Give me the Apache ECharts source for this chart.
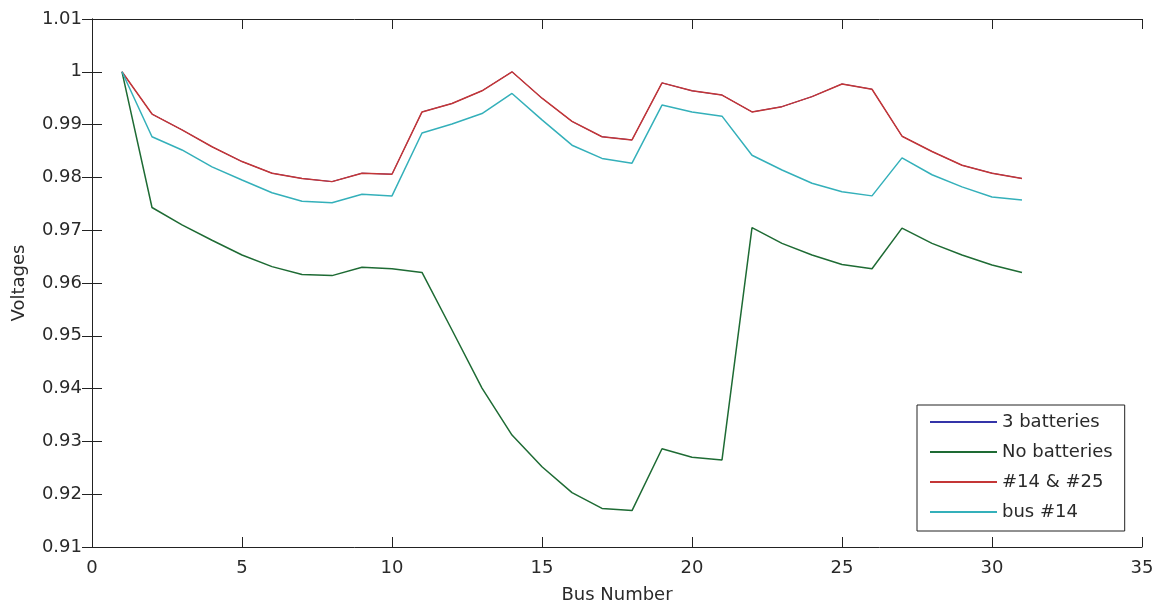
<!DOCTYPE html>
<html>
<head>
<meta charset="utf-8">
<script src="https://cdn.jsdelivr.net/npm/echarts@6/dist/echarts.min.js"></script>
<style>
  html, body { margin: 0; padding: 0; background: #fff; }
  #main { width: 1160px; height: 610px; }
</style>
</head>
<body>
<div id="main"></div>
<script>
// bus numbers along the feeder
var busNumbers = [1, 2, 3, 4, 5, 6, 7, 8, 9, 10, 11, 12, 13, 14, 15, 16,
  17, 18, 19, 20, 21, 22, 23, 24, 25, 26, 27, 28, 29, 30, 31];

// voltages (p.u.)
var noBatteries = [1.000, 0.9743, 0.9710, 0.9681, 0.9653, 0.9631, 0.9616, 0.9614,
  0.9630, 0.9627, 0.9620, 0.9511, 0.9401, 0.9312, 0.9252, 0.9203, 0.9173, 0.9169,
  0.9286, 0.9270, 0.9265, 0.9705, 0.9675, 0.9653, 0.9635, 0.9627, 0.9704, 0.9675,
  0.9653, 0.9634, 0.9620];
var bat14and25 = [1.000, 0.9920, 0.9890, 0.9858, 0.9830, 0.9808, 0.9798, 0.9792,
  0.9808, 0.9806, 0.9924, 0.9940, 0.9964, 1.0000, 0.9950, 0.9906, 0.9877, 0.9871,
  0.9979, 0.9964, 0.9956, 0.9924, 0.9934, 0.9953, 0.9977, 0.9967, 0.9878, 0.9849,
  0.9823, 0.9808, 0.9798];
var bus14 = [1.000, 0.9877, 0.9852, 0.9820, 0.9795, 0.9771, 0.9755, 0.9752,
  0.9768, 0.9765, 0.9884, 0.9901, 0.9921, 0.9959, 0.9909, 0.9861, 0.9836, 0.9827,
  0.9937, 0.9924, 0.9916, 0.9842, 0.9814, 0.9789, 0.9773, 0.9765, 0.9837, 0.9805,
  0.9782, 0.9763, 0.9757];
// the "3 batteries" trace is hidden under the later ones in the picture
var threeBatteries = bat14and25.slice();

var yTicks = { min: 0.91, max: 1.01, step: 0.01 };
var xTicks = { min: 0, max: 35, step: 5 };

function pairs(ys) {
  return busNumbers.map(function (b, i) { return [b, ys[i]]; });
}

var font = 'DejaVu Sans';
var textColor = '#2a2a2a';
var axisLine = { show: true, lineStyle: { color: '#222', width: 1 } };
var axisTick = { show: true, inside: true, length: 10, lineStyle: { color: '#222' } };

var chart = echarts.init(document.getElementById('main'), null, { renderer: 'canvas' });

var option = {
  backgroundColor: '#fff',
  animation: false,
  textStyle: { fontFamily: font },
  grid: { left: 92, right: 18, top: 19, bottom: 63 },
  legend: {
    orient: 'vertical',
    left: 917,
    top: 405,
    padding: [7, 12, 9, 13],
    borderColor: '#222',
    borderWidth: 1,
    backgroundColor: '#fff',
    icon: 'rect',
    itemWidth: 67,
    itemHeight: 2,
    itemGap: 10,
    textStyle: { fontFamily: font, fontSize: 18, color: textColor, lineHeight: 20 },
    data: ['3 batteries', 'No batteries', '#14 & #25', 'bus #14']
  },
  xAxis: [{
    type: 'value',
    min: xTicks.min, max: xTicks.max, interval: xTicks.step,
    name: 'Bus Number',
    nameLocation: 'middle',
    nameGap: 39,
    nameTextStyle: { fontFamily: font, fontSize: 18, color: textColor },
    axisLine: axisLine,
    axisTick: axisTick,
    axisLabel: { fontFamily: font, fontSize: 18, color: textColor, margin: 12 },
    splitLine: { show: false }
  }, {
    type: 'value', position: 'top',
    min: xTicks.min, max: xTicks.max, interval: xTicks.step,
    axisLine: axisLine, axisTick: axisTick,
    axisLabel: { show: false }, splitLine: { show: false }
  }],
  yAxis: [{
    type: 'value',
    min: yTicks.min, max: yTicks.max, interval: yTicks.step,
    name: 'Voltages',
    nameLocation: 'middle',
    nameGap: 64,
    nameTextStyle: { fontFamily: font, fontSize: 18, color: textColor },
    axisLine: axisLine,
    axisTick: axisTick,
    axisLabel: {
      fontFamily: font, fontSize: 18, color: textColor, margin: 10,
      formatter: function (v) { return String(parseFloat(v.toFixed(2))); }
    },
    splitLine: { show: false }
  }, {
    type: 'value', position: 'right',
    min: yTicks.min, max: yTicks.max, interval: yTicks.step,
    axisLine: axisLine, axisTick: axisTick,
    axisLabel: { show: false }, splitLine: { show: false }
  }],
  series: [
    { name: '3 batteries', type: 'line', symbol: 'none', data: pairs(threeBatteries),
      itemStyle: { color: '#3434a8' }, lineStyle: { color: '#3434a8', width: 1 } },
    { name: 'No batteries', type: 'line', symbol: 'none', data: pairs(noBatteries),
      itemStyle: { color: '#1e6b34' }, lineStyle: { color: '#1e6b34', width: 1.5 } },
    { name: '#14 & #25', type: 'line', symbol: 'none', data: pairs(bat14and25),
      itemStyle: { color: '#c43636' }, lineStyle: { color: '#c43636', width: 1.5 } },
    { name: 'bus #14', type: 'line', symbol: 'none', data: pairs(bus14),
      itemStyle: { color: '#34b0ba' }, lineStyle: { color: '#34b0ba', width: 1.5 } }
  ]
};

chart.setOption(option);
</script>
</body>
</html>
